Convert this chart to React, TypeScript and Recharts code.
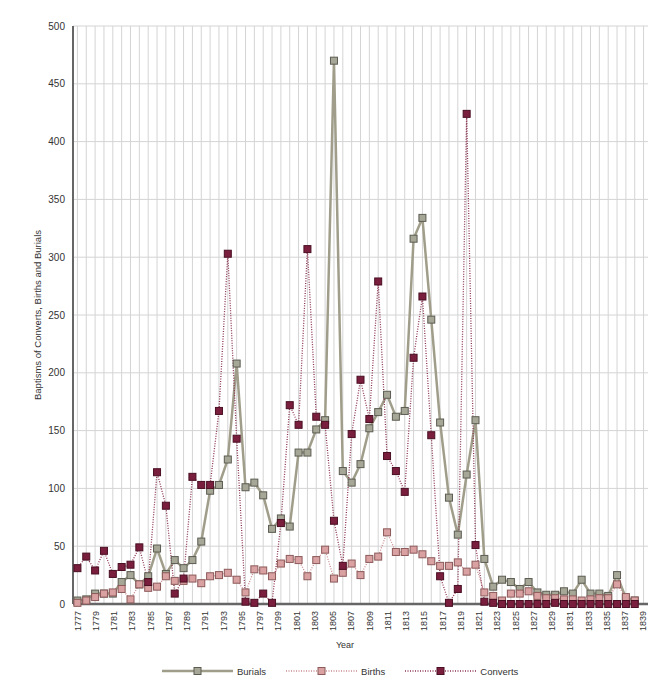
import { CartesianGrid, Legend, Line, LineChart, XAxis, YAxis } from 'recharts';

// one entry per year, oldest first
const years = [
  1777, 1778, 1779, 1780, 1781, 1782, 1783, 1784, 1785, 1786,
  1787, 1788, 1789, 1790, 1791, 1792, 1793, 1794, 1795, 1796,
  1797, 1798, 1799, 1800, 1801, 1802, 1803, 1804, 1805, 1806,
  1807, 1808, 1809, 1810, 1811, 1812, 1813, 1814, 1815, 1816,
  1817, 1818, 1819, 1820, 1821, 1822, 1823, 1824, 1825, 1826,
  1827, 1828, 1829, 1830, 1831, 1832, 1833, 1834, 1835, 1836,
  1837, 1838, 1839, 1840,
];

const burials = [
  3, 4, 9, 9, 9, 19, 25, 17, 24, 48,
  26, 38, 31, 38, 54, 98, 103, 125, 208, 101,
  105, 94, 65, 74, 67, 131, 131, 151, 159, 470,
  115, 105, 121, 152, 166, 181, 162, 167, 316, 334,
  246, 157, 92, 60, 112, 159, 39, 15, 21, 19,
  13, 19, 10, 8, 8, 11, 9, 21, 9, 9,
  7, 25, 5, 3,
];

const births = [
  1, 3, 6, 9, 10, 13, 4, 17, 14, 15,
  24, 20, 20, 22, 18, 24, 25, 27, 21, 10,
  30, 29, 24, 35, 39, 38, 24, 38, 47, 22,
  27, 35, 25, 39, 41, 62, 45, 45, 47, 43,
  37, 33, 33, 36, 28, 34, 10, 7, 3, 9,
  9, 11, 7, 5, 5, 4, 4, 3, 4, 5,
  5, 17, 6, 3,
];

const converts = [
  31, 41, 29, 46, 26, 32, 34, 49, 19, 114,
  85, 9, 22, 110, 103, 103, 167, 303, 143, 2,
  1, 9, 1, 70, 172, 155, 307, 162, 155, 72,
  33, 147, 194, 160, 279, 128, 115, 97, 213, 266,
  146, 24, 1, 13, 424, 51, 2, 1, 0, 0,
  0, 0, 0, 0, 1, 0, 0, 0, 0, 0,
  0, 0, 0, 0,
];

// vertical grid lines, one per year and one past the last
const gridYears = [...years, 1841];

const yearLabels = [
  1777, 1779, 1781, 1783, 1785, 1787, 1789, 1791, 1793, 1795, 1797,
  1799, 1801, 1803, 1805, 1807, 1809, 1811, 1813, 1815, 1817, 1819,
  1821, 1823, 1825, 1827, 1829, 1831, 1833, 1835, 1837, 1839,
];

const valueTicks = [0, 50, 100, 150, 200, 250, 300, 350, 400, 450, 500];

// The year labels in the source are spread over 63 slots while the points
// sit in 65 slots, so the label ticks are stretched to match.
const X_DOMAIN: [number, number] = [1776.5, 1841.5];
const labelTicks = yearLabels.map((y) => X_DOMAIN[0] + ((y - X_DOMAIN[0]) * 65) / 63);

const data = years.map((year, i) => ({
  year,
  burials: burials[i],
  births: births[i],
  converts: converts[i],
}));

const FONT = '"Liberation Sans", Arial, sans-serif';
const TEXT = '#333';

const SERIES = {
  burials: { line: '#a09e8a', fill: '#a7a797', edge: '#5c5c52', width: 2.5, dash: undefined },
  births: { line: '#c98b8f', fill: '#d9a1a1', edge: '#8c5a5a', width: 1.3, dash: '1 1.5' },
  converts: { line: '#8b3553', fill: '#7a1e3e', edge: '#4a0f22', width: 1.3, dash: '1 1.5' },
} as const;

type SeriesKey = keyof typeof SERIES;
const LEGEND_ORDER: SeriesKey[] = ['burials', 'births', 'converts'];

function squareDot(key: SeriesKey) {
  const s = SERIES[key];
  return (props: any) => {
    const { cx, cy, index } = props;
    if (cx == null || cy == null) return <g key={`${key}-${index}`} />;
    return (
      <rect
        key={`${key}-${index}`}
        x={cx - 3.5}
        y={cy - 3.5}
        width={7}
        height={7}
        fill={s.fill}
        stroke={s.edge}
        strokeWidth={1}
      />
    );
  };
}

function YearTick(props: any) {
  const { x, y, index } = props;
  return (
    <text
      x={x}
      y={y}
      transform={`rotate(-90 ${x} ${y})`}
      textAnchor="end"
      dominantBaseline="central"
      fontSize={9}
      fontFamily={FONT}
      fill={TEXT}
    >
      {yearLabels[index]}
    </text>
  );
}

function LegendContent(props: any) {
  const { payload = [] } = props;
  const items = LEGEND_ORDER.map((k) => payload.find((p: any) => p.dataKey === k)).filter(Boolean);
  return (
    <div
      style={{
        display: 'flex',
        alignItems: 'center',
        height: 32,
        paddingTop: 6,
        boxSizing: 'border-box',
        paddingLeft: 162,
        fontFamily: FONT,
        fontSize: 9.5,
        color: TEXT,
      }}
    >
      {items.map((entry: any) => {
        const s = SERIES[entry.dataKey as SeriesKey];
        return (
          <div key={entry.dataKey} style={{ display: 'flex', alignItems: 'center', marginRight: 20 }}>
            <svg width={71} height={10} style={{ display: 'block' }}>
              <line
                x1={0}
                x2={71}
                y1={5}
                y2={5}
                stroke={s.line}
                strokeWidth={s.width}
                strokeDasharray={s.dash}
              />
              <rect x={32} y={1.5} width={7} height={7} fill={s.fill} stroke={s.edge} strokeWidth={1} />
            </svg>
            <span style={{ marginLeft: 4 }}>{entry.value}</span>
          </div>
        );
      })}
    </div>
  );
}

export default function App() {
  return (
    <div style={{ position: 'absolute', left: 0, top: 0, width: 657, height: 689, background: '#fff' }}>
      <LineChart width={657} height={689} data={data} margin={{ top: 26, right: 9, left: 23, bottom: 5 }}>
        <CartesianGrid
          stroke="#d4d4d4"
          strokeWidth={1}
          verticalValues={gridYears}
          horizontalValues={valueTicks}
        />
        <XAxis
          dataKey="year"
          type="number"
          domain={X_DOMAIN}
          allowDataOverflow
          ticks={labelTicks}
          interval={0}
          height={48}
          tickLine={false}
          tickSize={4}
          tickMargin={3}
          tick={<YearTick />}
          axisLine={{ stroke: '#666', strokeWidth: 2.5 }}
          label={{
            value: 'Year',
            content: (p: any) => {
              const vb = p.viewBox;
              return (
                <text
                  x={vb.x + 272}
                  y={vb.y + 44}
                  textAnchor="middle"
                  fontSize={9}
                  fontFamily={FONT}
                  fill={TEXT}
                >
                  Year
                </text>
              );
            },
          }}
        />
        <YAxis
          width={50}
          type="number"
          domain={[0, 500]}
          ticks={valueTicks}
          interval={0}
          tickLine={false}
          tickSize={6}
          tickMargin={2}
          tick={{ fontSize: 10, fontFamily: FONT, fill: TEXT }}
          axisLine={{ stroke: '#666', strokeWidth: 2 }}
          label={{
            value: 'Baptisms of Converts, Births and Burials',
            content: (p: any) => {
              const vb = p.viewBox;
              const cx = vb.x + 14;
              const cy = vb.y + vb.height / 2;
              return (
                <text
                  x={cx}
                  y={cy}
                  transform={`rotate(-90 ${cx} ${cy})`}
                  textAnchor="middle"
                  dominantBaseline="central"
                  fontSize={9.5}
                  fontFamily={FONT}
                  fill={TEXT}
                >
                  Baptisms of Converts, Births and Burials
                </text>
              );
            },
          }}
        />
        <Legend
          verticalAlign="bottom"
          content={<LegendContent />}
          wrapperStyle={{ left: 0, width: 657, height: 32 }}
        />
        <Line
          name="Burials"
          dataKey="burials"
          stroke={SERIES.burials.line}
          strokeWidth={SERIES.burials.width}
          dot={squareDot('burials')}
          activeDot={false}
          isAnimationActive={false}
        />
        <Line
          name="Births"
          dataKey="births"
          stroke={SERIES.births.line}
          strokeWidth={SERIES.births.width}
          strokeDasharray={SERIES.births.dash}
          dot={squareDot('births')}
          activeDot={false}
          isAnimationActive={false}
        />
        <Line
          name="Converts"
          dataKey="converts"
          stroke={SERIES.converts.line}
          strokeWidth={SERIES.converts.width}
          strokeDasharray={SERIES.converts.dash}
          dot={squareDot('converts')}
          activeDot={false}
          isAnimationActive={false}
        />
      </LineChart>
    </div>
  );
}
